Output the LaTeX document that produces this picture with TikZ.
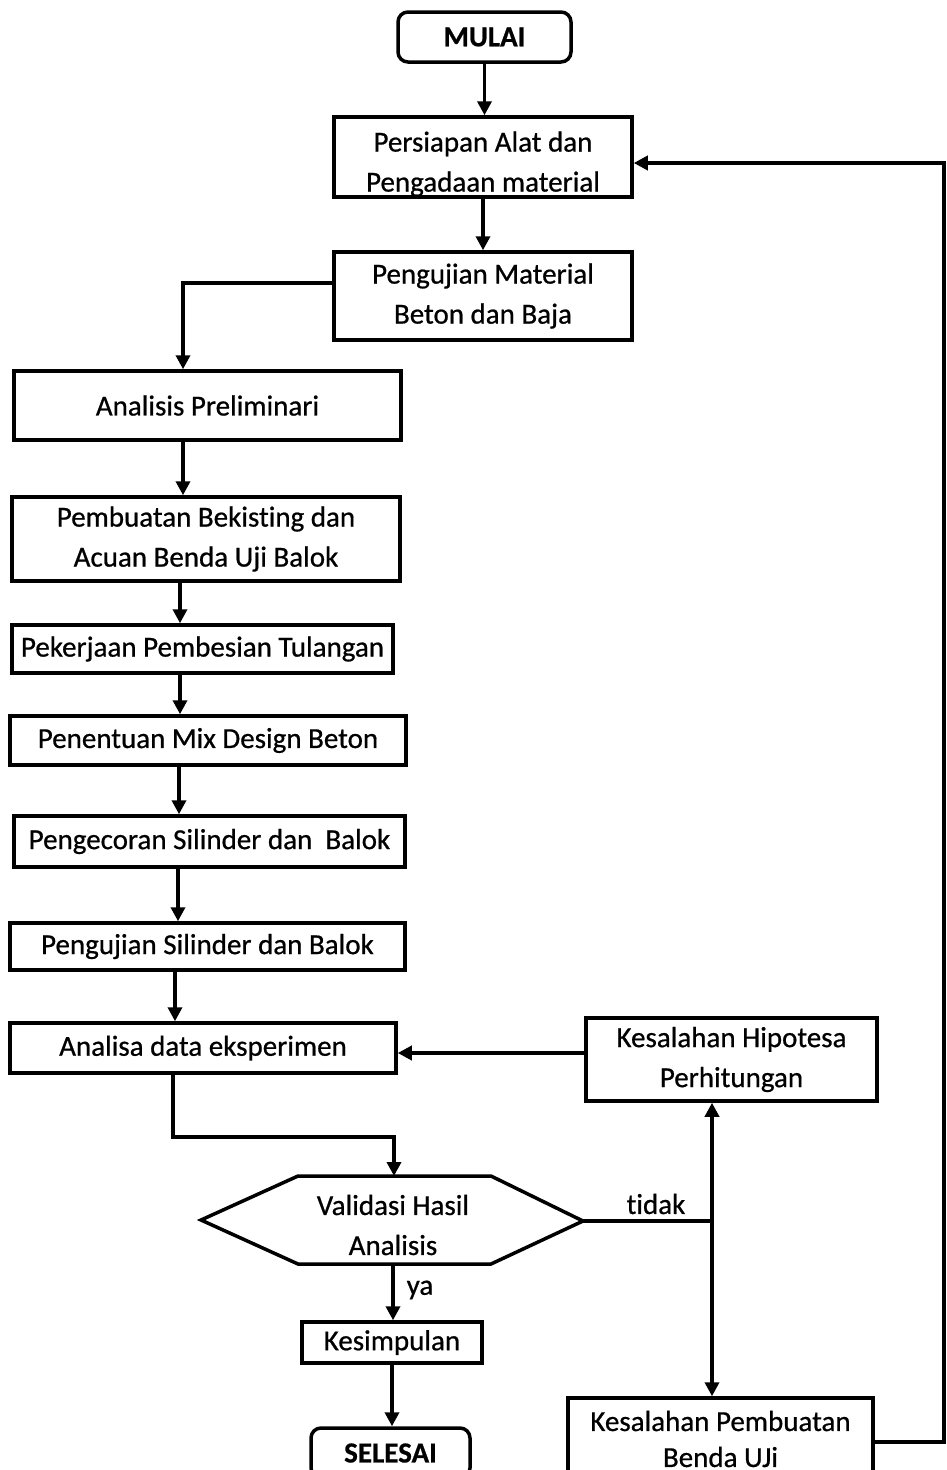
\documentclass[tikz,border=0pt]{standalone}
\usepackage{fontspec}
\setmainfont{Carlito}[FakeBold=0.7, Ligatures=NoCommon]
\usetikzlibrary{arrows.meta}
\begin{document}
\begin{tikzpicture}[x=1pt,y=-1pt,
  line width=3.5pt,
  every node/.style={font=\fontsize{29pt}{40pt}\selectfont},
  box/.style={draw, rectangle, inner sep=0pt, align=center},
  term/.style={draw, rectangle, rounded corners=10pt, inner sep=0pt, align=center, font=\fontsize{29pt}{40pt}\selectfont\bfseries},
  arr/.style={-{Triangle[length=14pt,width=14pt]}},
  lbl/.style={inner sep=0pt}
]
\useasboundingbox (0,0) rectangle (947,1470);

\node[term, minimum width=173pt, minimum height=50pt] (mulai) at (484.5,37) {MULAI};
\node[box, minimum width=298pt, minimum height=80pt,
  label={[lbl, align=center, yshift=-7pt]center:Persiapan Alat dan\\Pengadaan material}] (persiapan) at (483,157) {};
\node[box, minimum width=298pt, minimum height=88pt] (pengujianM) at (483,296) {Pengujian Material\\Beton dan Baja};
\node[box, minimum width=387pt, minimum height=69pt] (analisisP) at (207.5,405.5) {Analisis Preliminari};
\node[box, minimum width=388pt, minimum height=84pt] (bekisting) at (206,539) {Pembuatan Bekisting dan\\Acuan Benda Uji Balok};
\node[box, minimum width=381pt, minimum height=48pt] (pembesian) at (202.5,649) {Pekerjaan Pembesian Tulangan};
\node[box, minimum width=396pt, minimum height=49pt] (mix) at (208,740.5) {Penentuan Mix Design Beton};
\node[box, minimum width=391pt, minimum height=51pt] (pengecoran) at (209.5,841.5) {Pengecoran Silinder dan\ \ Balok};
\node[box, minimum width=395pt, minimum height=47pt] (pengujianS) at (207.5,946.5) {Pengujian Silinder dan Balok};
\node[box, minimum width=386pt, minimum height=50pt] (analisaD) at (203,1048) {Analisa data eksperimen};
\node[box, minimum width=291pt, minimum height=83pt] (hipotesa) at (731.5,1059.5) {Kesalahan Hipotesa\\Perhitungan};

% decision hexagon
\coordinate (hL) at (201,1220);
\coordinate (hTL) at (298,1176);
\coordinate (vtop) at (394,1176);
\coordinate (hTR) at (491,1176);
\coordinate (hR) at (583,1221);
\coordinate (hBR) at (491,1264);
\coordinate (vbot) at (393,1264);
\coordinate (hBL) at (298,1264);
\draw[line join=miter] (hL) -- (hTL) -- (hTR) -- (hR) -- (hBR) -- (hBL) -- cycle;
\node[lbl, align=center] (validasi) at (393,1225) {Validasi Hasil\\Analisis};

\node[box, minimum width=180pt, minimum height=41pt] (kesimpulan) at (392,1342.5) {Kesimpulan};
\node[term, minimum width=159pt, minimum height=50pt] (selesai) at (390.5,1453) {SELESAI};
\node[box, minimum width=305pt, minimum height=82pt, font=\fontsize{29pt}{36pt}\selectfont] (pembuatan) at (720.5,1439) {Kesalahan Pembuatan\\Benda UJi};

\coordinate (junc) at (712,1221);
\node[lbl] (tidak) at (656,1204) {tidak};
\node[lbl] (ya) at (420,1290) {ya};

% connectors
\draw[arr] (mulai.south) -- (mulai.south |- persiapan.north);
\draw[arr] (persiapan.south) -- (persiapan.south |- pengujianM.north);
\draw[arr] ([yshift=13pt]pengujianM.west) -| ([xshift=-24.5pt]analisisP.north);
\draw[arr] ([xshift=-24.5pt]analisisP.south) -- ([xshift=-24.5pt]analisisP.south |- bekisting.north);
\draw[arr] ([xshift=-26pt]bekisting.south) -- ([xshift=-26pt]bekisting.south |- pembesian.north);
\draw[arr] ([xshift=-22.5pt]pembesian.south) -- ([xshift=-22.5pt]pembesian.south |- mix.north);
\draw[arr] ([xshift=-29pt]mix.south) -- ([xshift=-29pt]mix.south |- pengecoran.north);
\draw[arr] ([xshift=-31.5pt]pengecoran.south) -- ([xshift=-31.5pt]pengecoran.south |- pengujianS.north);
\draw[arr] ([xshift=-32.5pt]pengujianS.south) -- ([xshift=-32.5pt]pengujianS.south |- analisaD.north);
\draw[arr] ([xshift=-30pt]analisaD.south) -- ++(0,62) -| (vtop);
\draw[arr] ([yshift=6.5pt]hipotesa.west) -- ([yshift=-5pt]analisaD.east);
\draw (hR) -- (junc);
\draw[arr] (junc) -- (junc |- hipotesa.south);
\draw[arr] (junc) -- (junc |- pembuatan.north);
\draw[arr] (vbot) -- (vbot |- kesimpulan.north);
\draw[arr] (kesimpulan.south) -- (kesimpulan.south |- selesai.north);
\draw[arr] ([yshift=-3pt]pembuatan.east) -- ++(69,0) |- ([yshift=-6pt]persiapan.east);
\end{tikzpicture}
\end{document}
